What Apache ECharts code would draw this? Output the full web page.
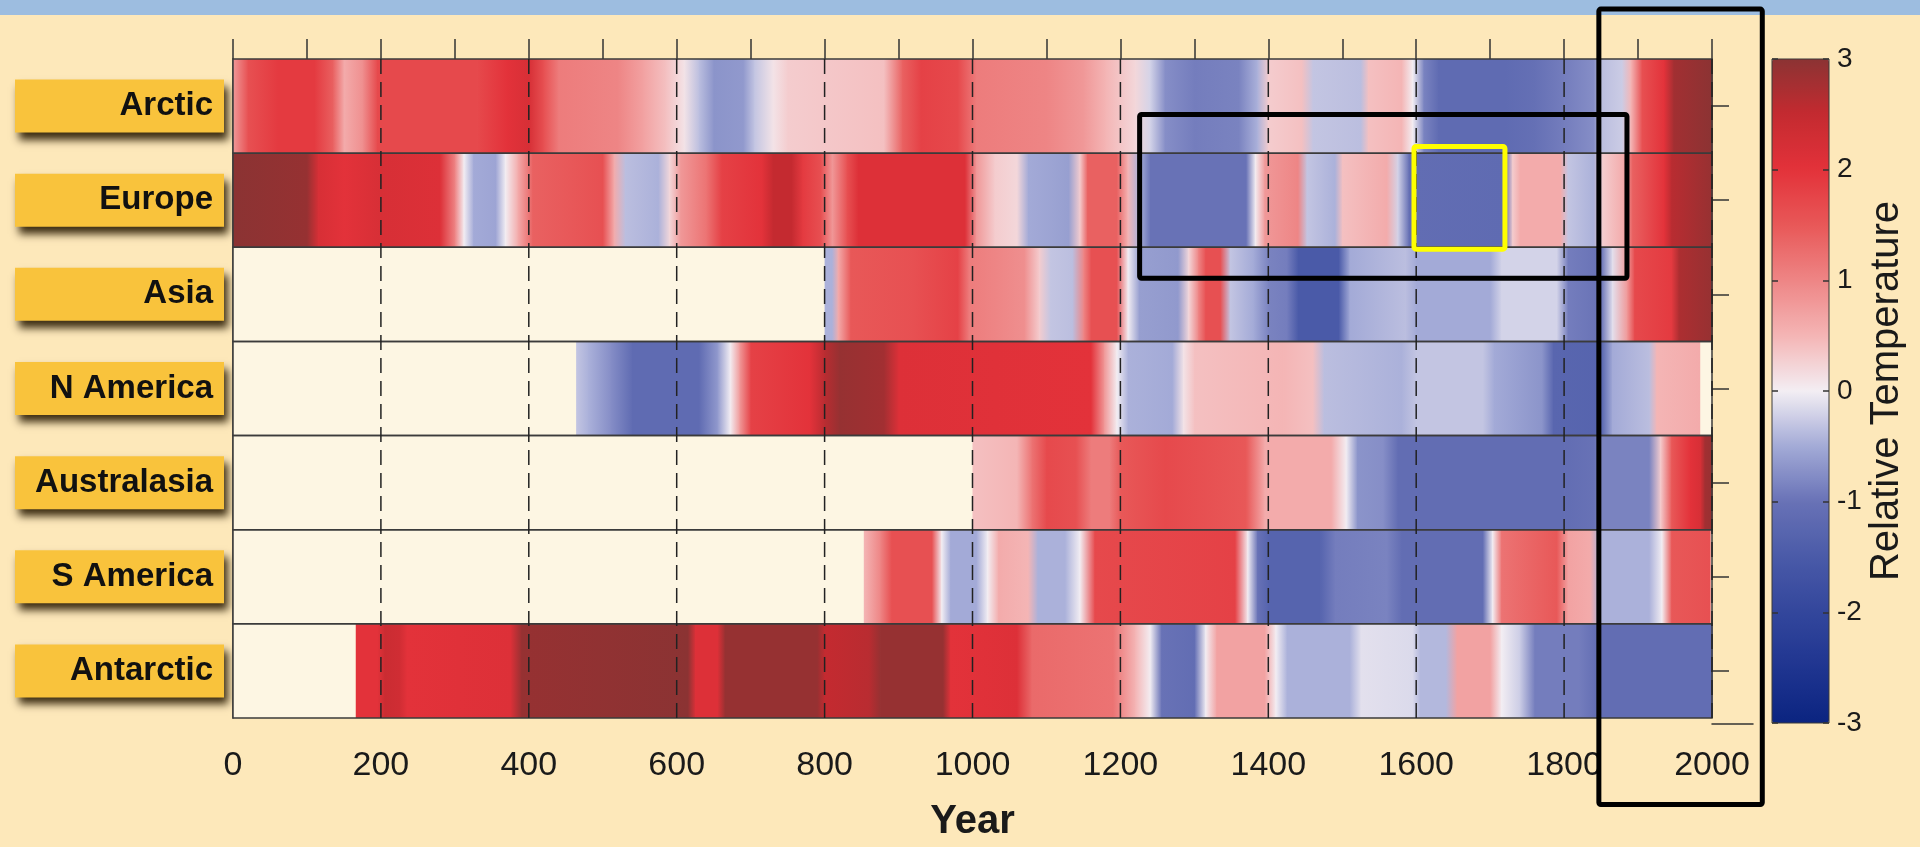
<!DOCTYPE html>
<html>
<head>
<meta charset="utf-8">
<script src="https://cdn.jsdelivr.net/npm/echarts@6/dist/echarts.min.js"></script>
<style>
  html, body { margin: 0; padding: 0; background: #fde8ba; }
  #band { position: absolute; left: 0; top: 0; width: 1920px; height: 15px; background: #9dbde0; }
  #chart { position: absolute; left: 0; top: 0; width: 1920px; height: 847px; }
</style>
</head>
<body>
<div id="band"></div>
<div id="chart"></div>
<script>
// rows, top to bottom
const regions = ['Arctic', 'Europe', 'Asia', 'N America', 'Australasia', 'S America', 'Antarctic']
const yearStart = 0
const yearEnd = 2000
const labelYears = [0, 200, 400, 600, 800, 1000, 1200, 1400, 1600, 1800, 2000]
const gridYears = [200, 400, 600, 800, 1000, 1200, 1400, 1600, 1800, 2000]

// [year, relative temperature]
const arctic = [[0,0.8],[20,1.6],[60,1.9],[110,1.9],[135,1.4],[150,0.6],[175,0.9],[195,1.7],[260,1.7],[330,1.7],[370,2.0],[400,2.2],[420,1.6],[440,1.1],[520,1.0],[555,0.7],[585,0.4],[610,0.1],[630,-0.35],[650,-0.7],[690,-0.65],[705,-0.3],[730,0.1],[750,0.3],[880,0.4],[905,1.4],[930,1.8],[980,1.7],[1005,1.1],[1100,1.0],[1150,0.8],[1180,0.5],[1220,0.2],[1240,-0.2],[1260,-0.75],[1300,-0.9],[1360,-0.85],[1385,-0.45],[1400,0.3],[1445,0.4],[1460,-0.3],[1525,-0.35],[1535,0.4],[1580,0.5],[1595,0.0],[1610,-0.85],[1630,-1.15],[1720,-1.15],[1760,-1.05],[1800,-0.9],[1840,-0.75],[1850,-0.35],[1878,-0.25],[1890,0.5],[1905,1.6],[1935,2.0],[1948,2.8],[2000,3.0]]
const europe = [[0,3.0],[100,2.9],[115,2.2],[150,2.0],[200,2.2],[280,2.1],[300,1.0],[312,0.0],[325,-0.5],[355,-0.55],[368,0.0],[385,0.6],[405,1.4],[500,1.6],[515,0.6],[530,-0.35],[575,-0.45],[590,0.2],[605,0.8],[640,1.2],[660,1.8],[715,2.0],[730,2.5],[755,2.5],[770,1.9],[795,1.6],[810,0.8],[830,1.6],[845,2.1],[990,2.1],[1005,0.8],[1030,0.3],[1060,0.2],[1075,-0.5],[1130,-0.6],[1145,0.3],[1155,1.4],[1195,1.4],[1210,0.5],[1225,-0.45],[1240,-1.0],[1370,-1.0],[1382,0.0],[1395,0.8],[1440,1.0],[1452,-0.3],[1490,-0.45],[1500,0.4],[1560,0.6],[1575,-0.2],[1590,-1.1],[1720,-1.15],[1730,0.3],[1740,0.6],[1795,0.6],[1805,-0.3],[1840,-0.45],[1852,0.3],[1880,0.6],[1892,1.4],[1935,2.0],[1945,2.6],[2000,2.9]]
const asia = [[800,-0.45],[810,-0.45],[818,0.6],[835,1.5],[920,1.6],[980,1.8],[995,1.1],[1070,0.9],[1090,0.3],[1105,-0.3],[1135,-0.35],[1150,1.0],[1160,1.6],[1195,1.6],[1210,0.0],[1225,-0.6],[1278,-0.65],[1292,0.2],[1305,1.0],[1315,1.6],[1335,1.6],[1348,-0.3],[1380,-0.5],[1400,-0.85],[1425,-0.9],[1440,-1.5],[1495,-1.5],[1510,-0.5],[1585,-0.35],[1600,-0.5],[1700,-0.5],[1715,-0.2],[1790,-0.2],[1805,-0.9],[1850,-1.0],[1865,-0.1],[1885,0.8],[1895,1.7],[1945,1.9],[1955,2.7],[2000,2.9]]
const nAmerica = [[464,-0.3],[480,-0.45],[510,-0.75],[540,-1.15],[630,-1.15],[655,-0.65],[672,0.0],[685,0.8],[700,1.8],[780,2.0],[800,2.6],[820,2.9],[880,2.8],[900,2.1],[1160,2.0],[1178,0.8],[1195,0.0],[1210,-0.45],[1270,-0.5],[1285,0.1],[1300,0.4],[1420,0.5],[1460,0.4],[1475,-0.35],[1580,-0.45],[1600,-0.3],[1690,-0.3],[1705,-0.5],[1770,-0.7],[1785,-1.25],[1850,-1.3],[1865,-0.5],[1915,-0.35],[1925,0.5],[1983,0.6]]
const australasia = [[1000,0.4],[1060,0.5],[1080,1.2],[1100,1.7],[1140,1.6],[1160,1.1],[1185,1.1],[1200,1.5],[1260,1.7],[1370,1.5],[1395,0.6],[1485,0.6],[1505,0.0],[1520,-0.7],[1555,-0.75],[1575,-1.1],[1800,-1.1],[1840,-1.0],[1850,-0.85],[1915,-0.85],[1930,0.3],[1945,1.5],[1970,2.0],[1984,2.2],[1990,2.8],[2000,2.9]]
const sAmerica = [[853,0.5],[875,1.0],[890,1.6],[945,1.6],[958,0.0],[970,-0.5],[1005,-0.5],[1020,0.0],[1035,0.6],[1075,0.5],[1088,-0.45],[1125,-0.45],[1145,0.0],[1165,1.7],[1355,1.8],[1372,0.0],[1385,-1.0],[1400,-1.3],[1470,-1.3],[1490,-0.9],[1560,-0.85],[1580,-1.1],[1690,-1.1],[1703,0.0],[1715,1.2],[1790,1.5],[1805,0.7],[1835,0.6],[1848,-0.45],[1915,-0.45],[1932,0.0],[1945,1.5],[1997,1.6]]
const antarctic = [[166,2.0],[195,2.0],[205,2.4],[225,2.3],[235,2.0],[375,2.1],[390,2.9],[615,3.0],[625,2.1],[655,2.1],[665,2.9],[790,2.9],[800,2.5],[860,2.6],[875,2.9],[960,2.9],[970,2.0],[1060,2.1],[1080,1.3],[1190,1.2],[1220,0.5],[1240,0.0],[1255,-1.0],[1300,-1.1],[1315,0.0],[1330,0.7],[1395,0.7],[1410,0.0],[1425,-0.45],[1510,-0.45],[1525,-0.1],[1595,-0.15],[1605,-0.4],[1640,-0.4],[1655,0.7],[1700,0.7],[1715,0.0],[1740,-0.25],[1760,-0.9],[1820,-0.9],[1845,-1.1],[2000,-1.1]]
const rowAnchors = [arctic, europe, asia, nAmerica, australasia, sAmerica, antarctic]

// highlight boxes: [year from, year to, row from, row to] (row 0 = Arctic centre)
const annotations = [[1226, 1885, 0.09, 1.83], [1597, 1720, 0.43, 1.52], [1847, 2068, -1.03, 7.42]]
const annotationColors = ['#000000', '#ffff00', '#000000']

// colour scale from -3 to 3
const palette = ['#0b2480', '#1f3590', '#33469c', '#4a5aa8', '#6872b6', '#a3aad7', '#f3eef3', '#f4b5b5', '#ee8585', '#e85858', '#e3323a', '#c42a30', '#8b3333']
const colorOf = (v) => echarts.color.lerp((v + 3) / 6, palette)

const segments = []
rowAnchors.forEach((anchors, row) => {
  for (let i = 0; i < anchors.length - 1; i++) {
    segments.push([anchors[i][0], anchors[i + 1][0], row, anchors[i][1], anchors[i + 1][1]])
  }
})
const frames = regions.map((r, i) => [yearStart, yearEnd, i])
const gridLines = gridYears.map((y) => [y, 0, regions.length - 1])

const font = '"Liberation Sans", Arial, sans-serif'
const ink = '#1a1a1a'
const axisColor = '#333'
var myChart = echarts.init(document.getElementById('chart'))

function bandRect(api) {
  const start = api.coord([api.value(0), api.value(2)])
  const end = api.coord([api.value(1), api.value(2)])
  const h = api.size([0, 1])[1]
  return { x: start[0], y: start[1] - h / 2, width: end[0] - start[0], height: h }
}

var option = {
  animation: false,
  textStyle: { fontFamily: font },
  grid: [
    { left: 233, right: 208, top: 59, bottom: 123 },
    { left: 1772, top: 59, width: 57, height: 664, show: true, borderColor: '#3a3a3a', borderWidth: 1, z: 5 },
    { left: 1712, right: 167, top: 59, bottom: 123 },
  ],
  xAxis: [
    {
      type: 'value', gridIndex: 0, min: yearStart, max: yearEnd, interval: 100,
      axisLine: { onZero: false, lineStyle: { color: axisColor, width: 1.5 } },
      axisTick: { length: 21, lineStyle: { color: axisColor, width: 1.5 } },
      axisLabel: {
        fontSize: 34, color: ink, margin: 31,
        formatter: (v) => (labelYears.includes(v) ? String(v) : ''),
      },
      splitLine: { show: false },
      name: 'Year', nameLocation: 'middle', nameGap: 84,
      nameTextStyle: { fontSize: 40, fontWeight: 'bold', color: ink },
    },
    {
      type: 'value', gridIndex: 0, min: yearStart, max: yearEnd, interval: 100, position: 'top',
      axisLine: { show: false, onZero: false },
      axisTick: { show: true, length: 20, lineStyle: { color: axisColor, width: 1.5 } },
      axisLabel: { show: false },
      splitLine: { show: false },
    },
    { type: 'value', gridIndex: 1, show: false },
    {
      type: 'value', gridIndex: 2, min: 0, max: 1,
      axisLine: { onZero: false, lineStyle: { color: axisColor, width: 1.5 } },
      axisTick: { show: false }, axisLabel: { show: false }, splitLine: { show: false },
    },
  ],
  yAxis: [
    {
      type: 'category', gridIndex: 0, data: regions, inverse: true,
      axisLine: { onZero: false, lineStyle: { color: axisColor, width: 1.5 } },
      axisTick: { alignWithLabel: true, length: 9, lineStyle: { color: axisColor, width: 1.5 } },
      axisLabel: {
        margin: 9, fontSize: 33, fontWeight: 'bold', color: '#111',
        backgroundColor: '#f9c33c', width: 198, height: 53, lineHeight: 53,
        padding: [0, 11, 0, 0], align: 'right',
        shadowColor: 'rgba(40,25,0,0.9)', shadowBlur: 8, shadowOffsetX: 4, shadowOffsetY: 7,
      },
    },
    {
      type: 'category', gridIndex: 0, data: regions, inverse: true, position: 'right',
      axisLine: { show: false, onZero: false },
      axisTick: { show: true, alignWithLabel: true, length: 17, lineStyle: { color: axisColor, width: 1.5 } },
      axisLabel: { show: true, color: 'rgba(0,0,0,0)', fontSize: 10 },
    },
    {
      type: 'value', gridIndex: 1, min: -3, max: 3, interval: 1, position: 'right', z: 6,
      axisLine: { show: false, onZero: false },
      axisTick: { inside: true, length: 6, lineStyle: { color: axisColor, width: 1.5 } },
      axisLabel: { fontSize: 28, color: ink, margin: 8 },
      splitLine: { show: false },
      name: 'Relative Temperature', nameLocation: 'middle', nameRotate: 90, nameGap: 38,
      nameTextStyle: { fontSize: 40, color: ink },
    },
    {
      type: 'value', gridIndex: 1, min: -3, max: 3, interval: 1, position: 'left', z: 6,
      axisLine: { show: false, onZero: false },
      axisTick: { inside: true, length: 6, lineStyle: { color: axisColor, width: 1.5 } },
      axisLabel: { show: false },
      splitLine: { show: false },
    },
    { type: 'value', gridIndex: 2, show: false },
  ],
  visualMap: {
    type: 'continuous', min: -3, max: 3, left: 1772, top: 59, padding: 0,
    itemWidth: 57, itemHeight: 664, calculable: false,
    seriesIndex: 1, hoverLink: false,
    inRange: { color: palette },
  },
  series: [
    {
      type: 'custom', xAxisIndex: 0, yAxisIndex: 0, data: frames, encode: { x: [0, 1], y: 2 },
      renderItem: (params, api) => ({ type: 'rect', shape: bandRect(api), style: { fill: '#fdf6e3' } }),
    },
    {
      type: 'custom', xAxisIndex: 0, yAxisIndex: 0, data: segments, encode: { x: [0, 1], y: 2 },
      renderItem: (params, api) => {
        const r = bandRect(api)
        r.width += 0.8
        return {
          type: 'rect', shape: r,
          style: {
            fill: new echarts.graphic.LinearGradient(0, 0, 1, 0, [
              { offset: 0, color: colorOf(api.value(3)) },
              { offset: 1, color: colorOf(api.value(4)) },
            ]),
          },
        }
      },
    },
    {
      type: 'custom', xAxisIndex: 0, yAxisIndex: 0, data: frames, encode: { x: [0, 1], y: 2 },
      renderItem: (params, api) => ({ type: 'rect', shape: bandRect(api), style: { fill: 'none', stroke: '#3b3b3b', lineWidth: 1.5 } }),
    },
    {
      type: 'custom', xAxisIndex: 0, yAxisIndex: 0, data: gridLines, encode: { x: 0, y: [1, 2] },
      renderItem: (params, api) => {
        const h = api.size([0, 1])[1]
        const top = api.coord([api.value(0), api.value(1)])
        const bottom = api.coord([api.value(0), api.value(2)])
        return {
          type: 'line',
          shape: { x1: top[0], y1: top[1] - h / 2, x2: bottom[0], y2: bottom[1] + h / 2 },
          style: { stroke: '#222', lineWidth: 1.5, lineDash: [15, 8] },
        }
      },
    },
  ],
}
myChart.setOption(option)

// highlight boxes placed through the axes
const px = (year) => myChart.convertToPixel({ xAxisIndex: 0 }, year)
const row0 = myChart.convertToPixel({ yAxisIndex: 0 }, regions[0])
const rowH = myChart.convertToPixel({ yAxisIndex: 0 }, regions[1]) - row0
myChart.setOption({
  graphic: annotations.map((a, i) => ({
    type: 'rect', z: 100,
    shape: { x: px(a[0]), y: row0 + a[2] * rowH, width: px(a[1]) - px(a[0]), height: (a[3] - a[2]) * rowH, r: 2 },
    style: { fill: 'none', stroke: annotationColors[i], lineWidth: 5 },
  })),
})
</script>
</body>
</html>
